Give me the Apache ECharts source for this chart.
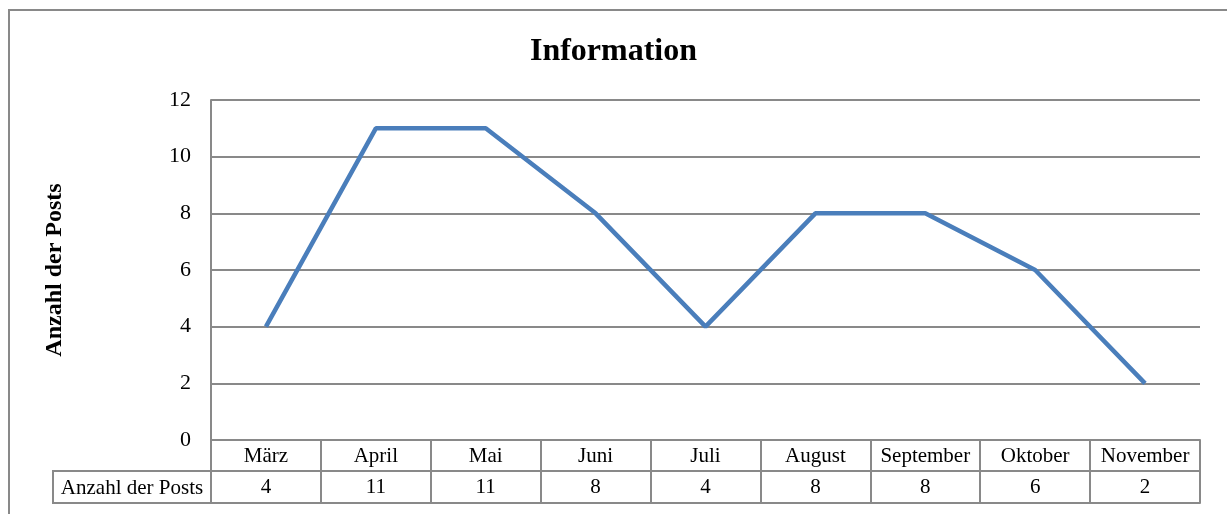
<!DOCTYPE html>
<html>
<head>
<meta charset="utf-8">
<script src="https://cdn.jsdelivr.net/npm/echarts@6/dist/echarts.min.js"></script>
<style>
  html, body { margin: 0; padding: 0; background: #fff; }
  #chart { width: 1227px; height: 514px; }
</style>
</head>
<body>
<div id="chart"></div>
<script>
var months = ['März', 'April', 'Mai', 'Juni', 'Juli', 'August', 'September', 'Oktober', 'November'];
var posts = [4, 11, 11, 8, 4, 8, 8, 6, 2];
var seriesName = 'Anzahl der Posts';

var serif = '"Liberation Serif", "Times New Roman", serif';
var gray = '#898989';

var chart = echarts.init(document.getElementById('chart'));

var option = {
	backgroundColor : '#fff',
	animation : false,
	title : {
		text : 'Information',
		left : 'center',
		top : 31,
		textStyle : {
			fontFamily : serif,
			fontSize : 32,
			fontWeight : 'bold',
			color : '#000'
		}
	},
	grid : {
		left : 211,
		right : 27,
		top : 100,
		bottom : 74
	},
	xAxis : [ {
		type : 'category',
		position : 'bottom',
		data : months,
		boundaryGap : true,
		axisLine : { show : true, lineStyle : { color : gray, width : 2 } },
		axisTick : { show : true, inside : false, length : 63, interval : 0,
			lineStyle : { color : gray, width : 2 } },
		axisLabel : { interval : 0, margin : 16, verticalAlign : 'middle',
			fontFamily : serif, fontSize : 21, color : '#000' },
		splitLine : { show : false }
	}, {
		type : 'category',
		position : 'bottom',
		offset : 31,
		data : posts.map(String),
		boundaryGap : true,
		axisLine : { show : true, lineStyle : { color : gray, width : 2 } },
		axisTick : { show : false },
		axisLabel : { interval : 0, margin : 16, verticalAlign : 'middle',
			fontFamily : serif, fontSize : 21, color : '#000' },
		splitLine : { show : false }
	}, {
		type : 'category',
		position : 'bottom',
		offset : 63,
		data : months,
		axisLine : { show : true, lineStyle : { color : gray, width : 2 } },
		axisTick : { show : false },
		axisLabel : { show : false },
		splitLine : { show : false }
	} ],
	yAxis : {
		type : 'value',
		min : 0,
		max : 12,
		interval : 2,
		name : seriesName,
		nameLocation : 'middle',
		nameGap : 144,
		nameTextStyle : { fontFamily : serif, fontSize : 24, fontWeight : 'bold', color : '#000' },
		axisLine : { show : true, lineStyle : { color : gray, width : 2 } },
		axisTick : { show : false },
		axisLabel : { margin : 20, fontFamily : serif, fontSize : 22, color : '#000' },
		splitLine : { show : true, lineStyle : { color : gray, width : 2 } }
	},
	series : [ {
		name : seriesName,
		type : 'line',
		data : posts,
		xAxisIndex : 0,
		symbol : 'none',
		lineStyle : { color : '#4a7ebb', width : 4.5 },
		itemStyle : { color : '#4a7ebb' }
	} ],
	graphic : [ {
		type : 'rect',
		shape : { x : 9, y : 10, width : 1240, height : 520 },
		style : { fill : 'none', stroke : gray, lineWidth : 2 },
		silent : true
	}, {
		type : 'rect',
		shape : { x : 53, y : 471, width : 158, height : 32 },
		style : { fill : '#fff', stroke : gray, lineWidth : 2 },
		silent : true
	}, {
		type : 'text',
		x : 132,
		y : 488,
		style : { text : seriesName, font : '21px ' + serif, fill : '#000',
			textAlign : 'center', textVerticalAlign : 'middle' },
		silent : true
	} ]
};

chart.setOption(option);
</script>
</body>
</html>
